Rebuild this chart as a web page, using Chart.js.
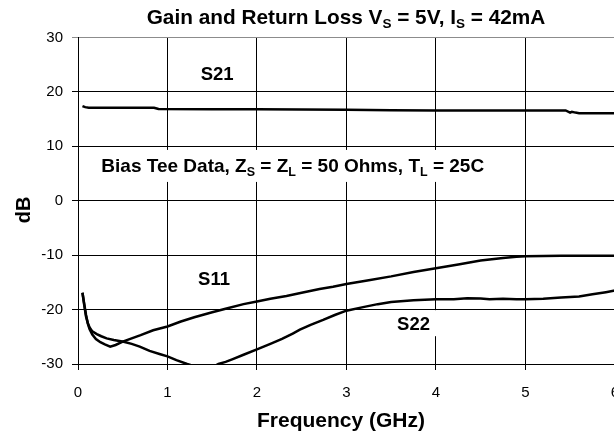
<!DOCTYPE html>
<html>
<head>
<meta charset="utf-8">
<script src="https://cdn.jsdelivr.net/npm/chart.js@4.4.1/dist/chart.umd.min.js"></script>
<style>
  html, body { margin: 0; padding: 0; overflow: hidden; background: #fff; }
  canvas { display: block; }
</style>
</head>
<body>
<canvas id="chart" width="633" height="435"></canvas>
<script>
// values (GHz / dB)
const freqS21 = [0.05, 0.08, 0.12, 0.3, 0.6, 0.85, 0.9, 1.5, 2.0, 2.5, 3.0, 3.5, 4.0, 4.5, 5.0, 5.45, 5.5, 5.52, 5.56, 5.6, 6.0];
const s21 = [17.4, 17.2, 17.1, 17.1, 17.1, 17.1, 16.85, 16.8, 16.8, 16.75, 16.7, 16.65, 16.6, 16.6, 16.6, 16.6, 16.2, 16.35, 16.2, 16.1, 16.1];

const freqS11 = [0.05, 0.07, 0.09, 0.11, 0.13, 0.16, 0.20, 0.25, 0.30, 0.36, 0.42, 0.50, 0.60, 0.70, 0.84, 1.0, 1.15, 1.3, 1.5, 1.66, 1.85, 2.0, 2.15, 2.33, 2.5, 2.7, 2.85, 3.0, 3.25, 3.5, 3.75, 4.0, 4.25, 4.5, 4.75, 4.9, 5.0, 5.2, 5.4, 5.6, 5.8, 6.0];
const s11 = [-16.9, -19.0, -21.0, -22.6, -23.6, -24.6, -25.4, -26.0, -26.4, -26.8, -26.5, -25.9, -25.3, -24.7, -23.8, -23.1, -22.2, -21.4, -20.5, -19.8, -19.0, -18.5, -18.0, -17.5, -16.9, -16.2, -15.8, -15.3, -14.6, -13.9, -13.1, -12.4, -11.7, -11.0, -10.5, -10.3, -10.2, -10.15, -10.1, -10.1, -10.1, -10.1];

const freqS22 = [0.05, 0.07, 0.09, 0.11, 0.13, 0.16, 0.21, 0.26, 0.32, 0.40, 0.51, 0.60, 0.69, 0.80, 0.92, 1.0, 1.1, 1.22, 1.3, 1.4, 1.5, 1.57, 1.65, 1.73, 1.85, 2.0, 2.15, 2.28, 2.4, 2.48, 2.6, 2.74, 2.87, 3.0, 3.2, 3.35, 3.5, 3.75, 4.0, 4.2, 4.35, 4.5, 4.6, 4.75, 4.9, 5.0, 5.2, 5.4, 5.5, 5.6, 5.75, 5.9, 6.0];
const s22 = [-16.9, -19.2, -21.3, -22.5, -23.3, -24.0, -24.5, -24.9, -25.3, -25.6, -25.9, -26.3, -26.8, -27.6, -28.2, -28.6, -29.3, -30.0, -30.4, -30.7, -30.6, -30.0, -29.6, -29.1, -28.3, -27.3, -26.3, -25.4, -24.4, -23.7, -22.8, -21.9, -21.0, -20.2, -19.5, -19.0, -18.6, -18.3, -18.1, -18.1, -17.9, -17.95, -18.1, -18.0, -18.1, -18.1, -18.0, -17.8, -17.7, -17.6, -17.2, -16.8, -16.5];

const xTicks = [0, 1, 2, 3, 4, 5, 6];
const yTicks = [-30, -20, -10, 0, 10, 20, 30];

const FONT = "'Liberation Sans', Arial, sans-serif";

function toPoints(xs, ys) {
    return xs.map((x, i) => ({ x: x, y: ys[i] }));
}

// text pieces: [text, isSubscript]
const titleParts = [['Gain and Return Loss V', false], ['S', true], [' = 5V, I', false], ['S', true], [' = 42mA', false]];

const notes = [
    { parts: [['S21', false]], x: 1.555, y: 23.3, h: 28, size: 18.5 },
    { parts: [['Bias Tee Data, Z', false], ['S', true], [' = Z', false], ['L', true], [' = 50 Ohms, T', false], ['L', true], [' = 25C', false]], x: 2.4, y: 6.4, h: 32, size: 19 },
    { parts: [['S11', false]], x: 1.52, y: -14.2, h: 28, size: 18.5 },
    { parts: [['S22', false]], x: 3.75, y: -22.5, h: 26, size: 18.5 }
];

function partsWidth(ctx, parts, size, subSize) {
    let w = 0;
    parts.forEach(p => {
        ctx.font = 'bold ' + (p[1] ? subSize : size) + 'px ' + FONT;
        w += ctx.measureText(p[0]).width;
    });
    return w;
}

function drawParts(ctx, parts, cx, baseline, size, subSize) {
    let x = cx - partsWidth(ctx, parts, size, subSize) / 2;
    ctx.textBaseline = 'alphabetic';
    ctx.textAlign = 'left';
    ctx.fillStyle = '#000';
    parts.forEach(p => {
        ctx.font = 'bold ' + (p[1] ? subSize : size) + 'px ' + FONT;
        ctx.fillText(p[0], x, baseline + (p[1] ? 4 : 0));
        x += ctx.measureText(p[0]).width;
    });
}

const textPlugin = {
    id: 'textPlugin',
    afterDraw(chart) {
        const ctx = chart.ctx;
        const xs = chart.scales.x;
        const ys = chart.scales.y;
        ctx.save();
        // title sits centred over the visible part of the plot
        drawParts(ctx, titleParts, 346, 24, 20.8, 13.5);
        notes.forEach(n => {
            const cx = xs.getPixelForValue(n.x);
            const cy = ys.getPixelForValue(n.y);
            const w = partsWidth(ctx, n.parts, n.size, 12.5) + 16;
            ctx.fillStyle = '#fff';
            ctx.fillRect(cx - w / 2, cy - n.h / 2, w, n.h);
            drawParts(ctx, n.parts, cx, cy + 6.5, n.size, 12.5);
        });
        // y axis title
        ctx.translate(24, 210);
        ctx.rotate(-Math.PI / 2);
        ctx.font = 'bold 20px ' + FONT;
        ctx.textAlign = 'center';
        ctx.textBaseline = 'middle';
        ctx.fillStyle = '#000';
        ctx.fillText('dB', 0, 0);
        ctx.restore();
    }
};

const lineStyle = {
    borderColor: '#000',
    backgroundColor: '#000',
    borderWidth: 2.5,
    pointRadius: 0,
    tension: 0,
    fill: false,
    clip: 0
};

new Chart(document.getElementById('chart'), {
    type: 'line',
    data: {
        datasets: [
            { label: 'S21', data: toPoints(freqS21, s21), ...lineStyle },
            { label: 'S11', data: toPoints(freqS11, s11), ...lineStyle },
            { label: 'S22', data: toPoints(freqS22, s22), ...lineStyle }
        ]
    },
    options: {
        responsive: false,
        animation: false,
        events: [],
        layout: { padding: { top: 37.5, left: 0, right: 0, bottom: 0 } },
        plugins: {
            legend: { display: false },
            tooltip: { enabled: false },
            title: { display: false }
        },
        scales: {
            x: {
                type: 'linear',
                min: 0,
                max: 6,
                afterBuildTicks: scale => { scale.ticks = xTicks.map(v => ({ value: v })); },
                afterFit: scale => { scale.height = 71; },
                ticks: { color: '#000', font: { family: FONT, size: 15 }, padding: 14 },
                grid: { color: '#000', lineWidth: 1, tickLength: 6 },
                border: { color: '#000', width: 1 },
                title: { display: false }
            },
            y: {
                min: -30,
                max: 30,
                afterBuildTicks: scale => { scale.ticks = yTicks.map(v => ({ value: v })); },
                afterFit: scale => { scale.width = 78; },
                ticks: { color: '#000', font: { family: FONT, size: 15 }, padding: 9 },
                grid: {
                    color: c => (c.tick && c.tick.value === 30 ? '#8c8c8c' : '#000'),
                    lineWidth: 1,
                    tickLength: 6
                },
                border: { color: '#000', width: 1 },
                title: { display: false }
            }
        }
    },
    plugins: [textPlugin, {
        id: 'xTitle',
        afterDraw(chart) {
            const ctx = chart.ctx;
            ctx.save();
            ctx.font = 'bold 21px ' + FONT;
            ctx.textAlign = 'center';
            ctx.textBaseline = 'middle';
            ctx.fillStyle = '#000';
            ctx.fillText('Frequency (GHz)', 341, 421);
            ctx.restore();
        }
    }]
});
</script>
</body>
</html>
